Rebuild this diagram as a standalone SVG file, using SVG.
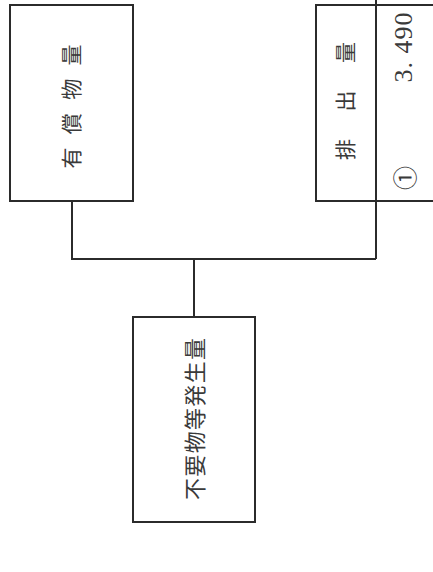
<svg xmlns="http://www.w3.org/2000/svg" width="433" height="572" viewBox="0 0 433 572">
<style>
.box{fill:none;stroke:#2b2b2b;stroke-width:2}
.ln{fill:none;stroke:#2b2b2b;stroke-width:2}
.jp{font-family:"Noto Sans CJK JP","Noto Sans CJK SC",sans-serif;fill:#3a3a3a;dominant-baseline:central;text-anchor:middle}
.num{font-family:"Liberation Serif",serif;fill:#3a3a3a;dominant-baseline:central;text-anchor:middle}
</style>
<rect width="433" height="572" fill="#ffffff"/>
<g id="connectors">
<line class="ln" x1="376" y1="0" x2="376" y2="259"/>
<polyline class="ln" points="72,201 72,259 376,259"/>
<line class="ln" x1="194" y1="259" x2="194" y2="317"/>
</g>
<g id="node-yushobutsu">
<rect class="box" x="10" y="5" width="123" height="196"/>
<text class="jp" font-size="21" textLength="124" lengthAdjust="spacing" transform="translate(70,106.5) rotate(-90)">有償物量</text>
</g>
<g id="node-haishutsu">
<rect class="box" x="316" y="5" width="130" height="196"/>
<text class="jp" font-size="21" textLength="118" lengthAdjust="spacing" transform="translate(344,101) rotate(-90)">排出量</text>
<text class="num" font-size="26" textLength="70" lengthAdjust="spacing" transform="translate(403,47.5) rotate(-90)">3. 490</text>
<text class="jp" font-size="24" font-family="Noto Sans CJK JP,sans-serif" transform="translate(403,178) rotate(-90)">①</text>
</g>
<g id="node-fuyoubutsu">
<rect class="box" x="133" y="317" width="122" height="205"/>
<text class="jp" font-size="22" textLength="162" lengthAdjust="spacing" transform="translate(193,419) rotate(-90)">不要物等発生量</text>
</g>
</svg>
